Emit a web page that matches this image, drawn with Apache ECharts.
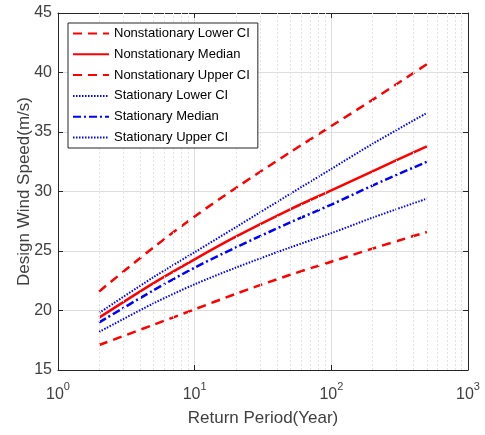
<!DOCTYPE html>
<html>
<head>
<meta charset="utf-8">
<script src="https://cdn.jsdelivr.net/npm/echarts@6/dist/echarts.min.js"></script>
<style>html,body{margin:0;padding:0;background:#fff}#c{width:485px;height:435px}</style>
</head>
<body>
<div id="c"></div>
<script>
var returnPeriods = [2, 5, 10, 20, 50, 100, 200, 500];
var nsLower  = [17.1, 18.8, 20.1, 21.4, 23.0, 24.1, 25.2, 26.6];
var nsMedian = [19.4, 22.3, 24.3, 26.2, 28.5, 30.1, 31.7, 33.8];
var nsUpper  = [21.6, 25.3, 27.9, 30.3, 33.3, 35.5, 37.7, 40.7];
var sLower   = [18.2, 20.6, 22.2, 23.6, 25.3, 26.5, 27.8, 29.4];
var sMedian  = [19.0, 21.7, 23.6, 25.3, 27.4, 28.9, 30.5, 32.5];
var sUpper   = [19.8, 22.8, 24.9, 27.0, 29.8, 31.9, 34.0, 36.6];
var seriesNames = ['Nonstationary Lower CI','Nonstationary Median','Nonstationary Upper CI','Stationary Lower CI','Stationary Median','Stationary Upper CI'];
var yTicks = [15, 45, 5];
var xRange = [1, 1000];
var minorGrid = [2,3,4,5,6,7,8,9,20,30,40,50,60,70,80,90,200,300,400,500,600,700,800,900];

function pairs(v){ return returnPeriods.map(function(x,i){ return [x, v[i]]; }); }

var RED = '#ff0000', BLUE = '#0000ff';
var FONT = 'Liberation Sans, Arial, sans-serif';
var axisCol = '#262626';

function mk(name, data, color, type, width, extra){
  var s = {
    name: name, type: 'line', data: pairs(data), symbol: 'none', smooth: 0.3,
    lineStyle: {color: color, type: type, width: width},
    itemStyle: {color: color}, z: 3
  };
  if (extra) for (var k in extra) s[k] = extra[k];
  return s;
}

var chart = echarts.init(document.getElementById('c'), null, {renderer:'canvas'});
var supFmt = function(v){ var e = Math.round(Math.log10(v)); return '{b|10}{s|' + e + '}'; };
var rich = { b:{fontSize:16, color:'#404040', fontFamily:FONT, lineHeight:22, verticalAlign:'bottom'},
             s:{fontSize:11, color:'#404040', fontFamily:FONT, lineHeight:22, verticalAlign:'top', padding:[0,0,10,0]} };

chart.setOption({
  animation: false,
  backgroundColor: '#fff',
  grid: {left: 58, top: 13, right: 17, bottom: 65, containLabel: false},
  legend: {
    orient: 'vertical', left: 68, top: 23, z: 20, zlevel: 0,
    data: seriesNames,
    itemWidth: 36, itemHeight: 14, itemGap: 7.8,
    padding: [4, 8, 4, 4],
    backgroundColor: '#fff', borderColor: axisCol, borderWidth: 1,
    itemStyle: {opacity: 0},
    textStyle: {fontFamily: FONT, fontSize: 13, color: '#000'},
    selectedMode: false
  },
  xAxis: [{
    type: 'log', logBase: 10, min: xRange[0], max: xRange[1],
    name: 'Return Period(Year)', nameLocation: 'middle', nameGap: 40, nameMoveOverlap: false,
    nameTextStyle: {fontFamily: FONT, fontSize: 17, color: '#404040'},
    axisLine: {lineStyle: {color: axisCol, width: 1}},
    axisTick: {inside: true, length: 5, lineStyle:{color: axisCol}},
    axisLabel: {formatter: supFmt, rich: rich, margin: 11},
    splitLine: {show: true, lineStyle: {color: '#dedede', width: 1}}
  },{
    type: 'log', logBase: 10, min: xRange[0], max: xRange[1], position: 'top',
    axisLine: {lineStyle: {color: axisCol, width: 1}},
    axisTick: {inside: true, length: 5, lineStyle:{color: axisCol}},
    axisLabel: {show: false}, splitLine: {show: false}
  }],
  yAxis: [{
    type: 'value', min: yTicks[0], max: yTicks[1], interval: yTicks[2],
    name: 'Design Wind Speed(m/s)', nameLocation: 'middle', nameGap: 25, nameMoveOverlap: false,
    nameTextStyle: {fontFamily: FONT, fontSize: 17, color: '#404040'},
    axisLine: {show: true, lineStyle: {color: axisCol, width: 1}},
    axisTick: {show: true, inside: true, length: 5, lineStyle:{color: axisCol}},
    axisLabel: {fontFamily: FONT, fontSize: 16, color: '#404040', margin: 6},
    splitLine: {show: true, lineStyle: {color: '#dedede', width: 1}}
  },{
    type: 'value', min: yTicks[0], max: yTicks[1], interval: yTicks[2], position: 'right',
    axisLine: {show: true, lineStyle: {color: axisCol, width: 1}},
    axisTick: {show: true, inside: true, length: 5, lineStyle:{color: axisCol}},
    axisLabel: {show: false}, splitLine: {show: false}
  }],
  series: [
    mk(seriesNames[0], nsLower, RED, [9,6], 2.5, {
      markLine: {
        silent: true, symbol: ['none','none'], label: {show:false}, animation:false,
        lineStyle: {color: '#e2e2e2', type: [2,2], width: 1},
        emphasis: {disabled: true},
        data: minorGrid.map(function(v){ return {xAxis: v}; })
      }
    }),
    mk(seriesNames[1], nsMedian, RED, 'solid', 2.5),
    mk(seriesNames[2], nsUpper, RED, [9,6], 2.5),
    mk(seriesNames[3], sLower, BLUE, [1.5,1.5], 2),
    mk(seriesNames[4], sMedian, BLUE, [8,3,2,3], 2.5),
    mk(seriesNames[5], sUpper, BLUE, [1.5,1.5], 2)
  ]
});
</script>
</body>
</html>
